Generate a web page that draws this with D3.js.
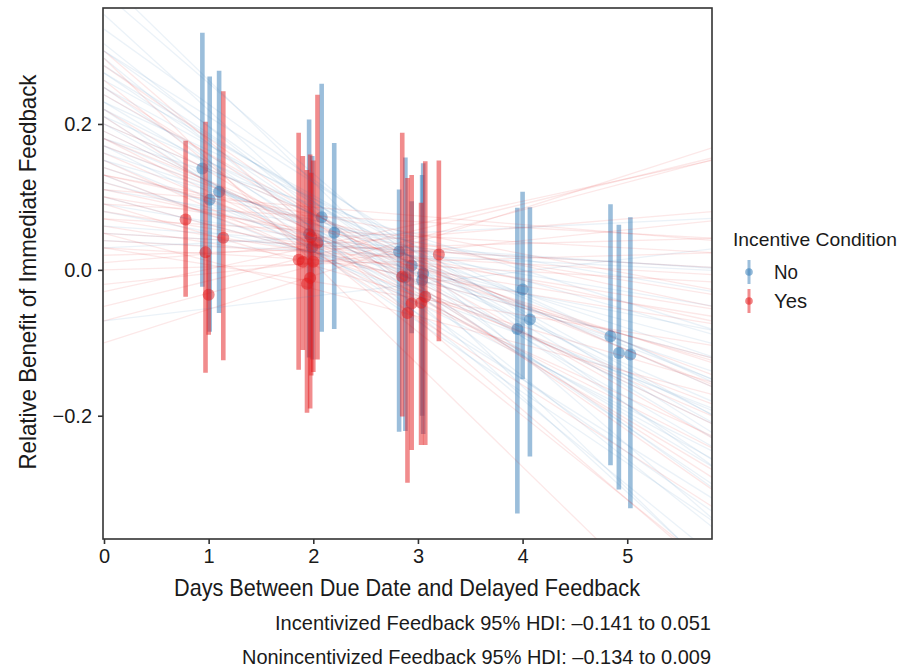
<!DOCTYPE html>
<html><head><meta charset="utf-8">
<script src="https://cdn.jsdelivr.net/npm/d3@7"></script>
<style>
html,body{margin:0;padding:0;background:#fff;}
svg text{font-family:"Liberation Sans Narrow","Arial Narrow","Liberation Sans",sans-serif;fill:#1a1a1a;}
</style></head>
<body>
<svg id="chart" width="903" height="670"></svg>
<script>
// ---- data ----
const blueX  = [0.94, 1.01, 1.10, 1.96, 1.99, 2.08, 2.20, 2.82, 2.88, 2.94, 3.05, 3.04, 3.95, 4.00, 4.07, 4.84, 4.92, 5.03];
const blueY  = [0.139, 0.096, 0.107, 0.049, 0.031, 0.072, 0.051, 0.025, -0.010, 0.006, -0.005, -0.014, -0.081, -0.027, -0.068, -0.091, -0.114, -0.116];
const blueLo = [-0.023, -0.085, -0.059, -0.120, -0.123, -0.085, -0.081, -0.222, -0.221, -0.087, -0.225, -0.200, -0.334, -0.150, -0.256, -0.268, -0.301, -0.327];
const blueHi = [0.325, 0.265, 0.273, 0.206, 0.156, 0.255, 0.174, 0.110, 0.154, 0.094, 0.146, 0.130, 0.085, 0.107, 0.086, 0.090, 0.062, 0.072];

const redX  = [0.78, 0.97, 1.00, 1.14, 1.86, 1.90, 1.94, 1.97, 1.98, 2.00, 2.04, 2.85, 2.90, 2.94, 3.03, 3.07, 3.20];
const redY  = [0.069, 0.024, -0.034, 0.044, 0.014, 0.011, -0.019, -0.011, 0.045, 0.011, 0.037, -0.009, -0.059, -0.046, -0.045, -0.037, 0.021];
const redLo = [-0.037, -0.141, -0.089, -0.124, -0.137, -0.110, -0.196, -0.190, -0.145, -0.140, -0.123, -0.201, -0.292, -0.247, -0.240, -0.240, -0.098];
const redHi = [0.177, 0.203, 0.020, 0.245, 0.188, 0.156, 0.137, 0.158, 0.133, 0.150, 0.240, 0.188, 0.126, 0.130, 0.092, 0.149, 0.150];

// posterior regression draws (intercept, slope)
const blueInt = [0.40,0.38,0.35,0.33,0.31,0.30,0.30,0.29,0.28,0.27,0.27,0.26,0.25,0.25,0.24,0.23,0.23,0.22,0.22,0.21,0.21,0.20,0.20,0.19,0.18,0.18,0.17,0.17,0.16,0.15,0.15,0.14,0.13,0.12,0.11,0.10,0.09,0.08,0.06,0.05,0.04,0.03,-0.07];
const blueSlope = [-0.140,-0.124,-0.131,-0.103,-0.114,-0.090,-0.103,-0.117,-0.093,-0.097,-0.086,-0.079,-0.100,-0.079,-0.083,-0.086,-0.066,-0.097,-0.072,-0.062,-0.090,-0.079,-0.062,-0.069,-0.062,-0.045,-0.072,-0.055,-0.048,-0.059,-0.041,-0.048,-0.055,-0.038,-0.024,-0.038,-0.024,-0.028,-0.010,-0.008,-0.007,0.007,0.017];
const redInt = [0.30,0.29,0.28,0.26,0.25,0.24,0.22,0.21,0.20,0.19,0.18,0.18,0.17,0.16,0.15,0.14,0.13,0.13,0.13,0.12,0.11,0.11,0.10,0.10,0.09,0.09,0.08,0.07,0.07,0.06,0.05,0.05,0.04,0.03,0.03,0.02,0.01,0.00,-0.02,-0.03,-0.05,-0.07,-0.10];
const redSlope = [-0.123,-0.140,-0.100,-0.115,-0.092,-0.081,-0.085,-0.092,-0.062,-0.069,-0.073,-0.058,-0.054,-0.062,-0.065,-0.046,-0.031,-0.054,-0.027,-0.042,-0.031,-0.012,-0.038,-0.023,-0.042,-0.008,-0.023,-0.023,-0.008,-0.023,-0.008,-0.038,-0.008,-0.008,-0.023,0.004,0.012,0.004,0.015,0.031,0.035,0.038,0.046];

const xTicks = [0, 1, 2, 3, 4, 5];
const yTicks = [-0.2, 0.0, 0.2];
const legendLabels = ["No", "Yes"];
const captionLines = ["Incentivized Feedback 95% HDI: \u20130.141 to 0.051",
                      "Nonincentivized Feedback 95% HDI: \u20130.134 to 0.009"];

// ---- layout ----
const P = {left: 103, right: 712, top: 8, bottom: 539};
const BLUE = "#377EB8", RED = "#E41A1C";
const FONT = '"Liberation Sans Narrow","Arial Narrow","Liberation Sans",sans-serif';

const svg = d3.select("#chart");
const x = d3.scaleLinear().domain([0, 5.81]).range([104, P.right]);
const y = d3.scaleLinear().domain([-0.369, 0.359]).range([P.bottom, P.top]);

svg.append("defs").append("clipPath").attr("id", "clip")
  .append("rect").attr("x", P.left).attr("y", P.top)
  .attr("width", P.right - P.left).attr("height", P.bottom - P.top);

const plot = svg.append("g").attr("clip-path", "url(#clip)");

function pointranges(xs, ys, lo, hi, col) {
  const d = xs.map((v, i) => ({x: v, y: ys[i], lo: lo[i], hi: hi[i]}));
  const g = plot.append("g");
  g.selectAll("line").data(d).enter().append("line")
    .attr("x1", d => x(d.x)).attr("x2", d => x(d.x))
    .attr("y1", d => y(d.lo)).attr("y2", d => y(d.hi))
    .attr("stroke", col).attr("stroke-opacity", 0.5).attr("stroke-width", 4.6);
  g.selectAll("circle").data(d).enter().append("circle")
    .attr("cx", d => x(d.x)).attr("cy", d => y(d.y)).attr("r", 6)
    .attr("fill", col).attr("fill-opacity", 0.5);
}
pointranges(blueX, blueY, blueLo, blueHi, BLUE);
pointranges(redX, redY, redLo, redHi, RED);

function draws(ints, slopes, col) {
  const d = ints.map((a, i) => ({a: a, b: slopes[i]}));
  plot.append("g").selectAll("line").data(d).enter().append("line")
    .attr("x1", x(0)).attr("x2", x(5.81))
    .attr("y1", d => y(d.a)).attr("y2", d => y(d.a + d.b * 5.81))
    .attr("stroke", col).attr("stroke-opacity", 0.1).attr("stroke-width", 1.3);
}
draws(blueInt, blueSlope, BLUE);
draws(redInt, redSlope, RED);

// panel border
svg.append("rect").attr("x", P.left).attr("y", P.top)
  .attr("width", P.right - P.left).attr("height", P.bottom - P.top)
  .attr("fill", "none").attr("stroke", "#333").attr("stroke-width", 1.6);

// axes
const xAxis = svg.append("g").attr("transform", `translate(0,${P.bottom})`)
  .call(d3.axisBottom(x).tickValues(xTicks).tickFormat(d3.format("d")).tickSize(5).tickPadding(4));
const yAxis = svg.append("g").attr("transform", `translate(${P.left},0)`)
  .call(d3.axisLeft(y).tickValues(yTicks).tickFormat(d => d < 0 ? "\u2212" + Math.abs(d).toFixed(1) : d.toFixed(1)).tickSize(5).tickPadding(6));
[xAxis, yAxis].forEach(a => {
  a.select(".domain").remove();
  a.selectAll(".tick line").attr("stroke", "#333").attr("stroke-width", 1.6);
  a.selectAll(".tick text").attr("font-size", 20).attr("fill", "#1a1a1a").style("font-family", FONT);
});
xAxis.selectAll(".tick text").attr("dy", "0.75em");

// titles
svg.append("text").attr("x", 407).attr("y", 596).attr("text-anchor", "middle")
  .attr("font-size", 24).attr("textLength", 466).attr("lengthAdjust", "spacingAndGlyphs")
  .text("Days Between Due Date and Delayed Feedback");
svg.append("text").attr("transform", "translate(36,272) rotate(-90)").attr("text-anchor", "middle")
  .attr("font-size", 24).attr("textLength", 395).attr("lengthAdjust", "spacingAndGlyphs")
  .text("Relative Benefit of Immediate Feedback");

// legend
svg.append("text").attr("x", 733).attr("y", 246).attr("font-size", 19)
  .attr("textLength", 164).attr("lengthAdjust", "spacingAndGlyphs").text("Incentive Condition");
const legCols = [BLUE, RED];
const legY = [272, 301];
legendLabels.forEach((lab, i) => {
  const g = svg.append("g");
  g.append("line").attr("x1", 749).attr("x2", 749).attr("y1", legY[i] - 12).attr("y2", legY[i] + 12)
    .attr("stroke", legCols[i]).attr("stroke-opacity", 0.5).attr("stroke-width", 3);
  g.append("circle").attr("cx", 749).attr("cy", legY[i]).attr("r", 3.8)
    .attr("fill", legCols[i]).attr("fill-opacity", 0.55);
  g.append("text").attr("x", 774).attr("y", legY[i] + 7).attr("font-size", 21)
    .attr("textLength", i === 0 ? 24 : 33).attr("lengthAdjust", "spacingAndGlyphs").text(lab);
});

// caption
const capW = [436, 469];
const capY = [630, 664];
captionLines.forEach((t, i) => {
  svg.append("text").attr("x", 711).attr("y", capY[i]).attr("text-anchor", "end")
    .attr("font-size", 21).attr("textLength", capW[i]).attr("lengthAdjust", "spacingAndGlyphs").text(t);
});
</script>
</body></html>
